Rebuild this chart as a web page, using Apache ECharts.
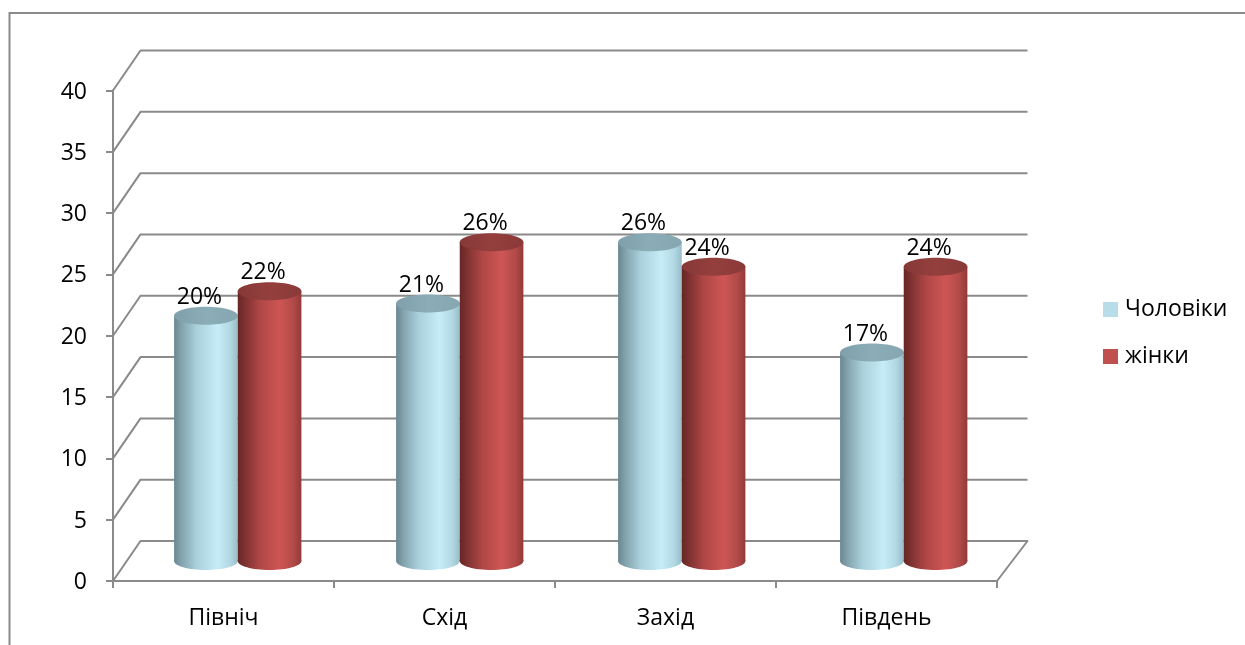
<!DOCTYPE html>
<html>
<head>
<meta charset="utf-8">
<style>html,body{margin:0;padding:0;background:#fff}#chart{width:1245px;height:645px}</style>
<script src="https://cdn.jsdelivr.net/npm/echarts@6/dist/echarts.min.js"></script>
</head>
<body>
<div id="chart"></div>
<script>
// Regions and survey shares, in percent
const regions = ['Північ', 'Схід', 'Захід', 'Південь'];
const menShares = [20, 21, 26, 17];
const womenShares = [22, 26, 24, 24];
const yTicks = [0, 5, 10, 15, 20, 25, 30, 35, 40];

const FONT = '"Open Sans", "Noto Sans", sans-serif';
const AXIS_GREY = '#8a8a8a';
// Oblique offset of the back wall relative to the front plane
const DEPTH_X = 27.5, DEPTH_Y = -40;
// The back wall is slightly wider than the front plane
const BACK_WIDEN = 3;
const MID_STRETCH = 1.0045;

function shade(stops) {
  return { type: 'linear', x: 0, y: 0, x2: 1, y2: 0,
    colorStops: stops.map(s => ({ offset: s[0], color: s[1] })) };
}

const men = {
  body: shade([[0, '#6a8791'], [0.12, '#83a4ae'], [0.35, '#a9d0db'], [0.68, '#c6edf7'], [0.88, '#b2d8e3'], [1, '#97bdc8']]),
  top: shade([[0, '#7fa0aa'], [0.5, '#8badb7'], [1, '#86a7b1']])
};
const women = {
  body: shade([[0, '#662625'], [0.12, '#7f3231'], [0.35, '#ae4746'], [0.66, '#ce5654'], [0.88, '#b04a48'], [1, '#94393a']]),
  top: shade([[0, '#863837'], [0.5, '#943f3e'], [1, '#8a3a39']])
};

// Cylinder standing half way through the chart depth, side by side within its band
function cylinderSeries(name, values, look, legendColor, side) {
  return {
    name, type: 'custom', coordinateSystem: 'cartesian2d', clip: false,
    itemStyle: { color: legendColor },
    encode: { x: 0, y: 1 },
    data: values.map((v, i) => [i, v]),
    renderItem(params, api) {
      const value = api.value(1);
      const band = api.size([1, 0])[0];
      const width = band * 0.288;
      const rx = width / 2, ry = 9;
      const topPt = api.coord([api.value(0), value]);
      const basePt = api.coord([api.value(0), 0]);
      const left = params.coordSys.x;
      const cx = left + (topPt[0] - left) * MID_STRETCH + DEPTH_X / 2 + side * rx;
      const yTop = topPt[1] + DEPTH_Y / 2;
      const yBase = basePt[1] + DEPTH_Y / 2;
      return {
        type: 'group', children: [
          { type: 'ellipse', shape: { cx, cy: yBase, rx, ry }, style: { fill: look.body } },
          { type: 'rect', shape: { x: cx - rx, y: yTop, width, height: yBase - yTop }, style: { fill: look.body } },
          { type: 'ellipse', shape: { cx, cy: yTop, rx, ry }, style: { fill: look.top } },
          { type: 'text', z2: 10, style: {
              text: value + '%', x: cx - 6.5, y: yTop - 18.5, align: 'center', verticalAlign: 'middle',
              font: '23px ' + FONT, fill: '#000' } }
        ]
      };
    }
  };
}

// Oblique gridlines: front edge up to the back wall, then across it
const gridSeries = {
  type: 'custom', coordinateSystem: 'cartesian2d', clip: false, silent: true,
  encode: { y: 0 },
  data: yTicks.map(v => [v]),
  renderItem(params, api) {
    const value = api.value(0);
    const sys = params.coordSys;
    const y = api.coord([0, value])[1];
    const left = sys.x, right = sys.x + sys.width;
    const points = [[left, y], [left + DEPTH_X, y + DEPTH_Y], [right + DEPTH_X + BACK_WIDEN, y + DEPTH_Y]];
    if (value === 0) points.push([right, y]);
    return { type: 'polyline', shape: { points },
      style: { fill: 'none', stroke: AXIS_GREY, lineWidth: 2, lineJoin: 'round' } };
  }
};

const chart = echarts.init(document.getElementById('chart'), null, { renderer: 'canvas' });
chart.setOption({
  animation: false,
  backgroundColor: '#fff',
  graphic: [{
    type: 'rect', z: 0, silent: true,
    shape: { x: 9.5, y: 13, width: 1300, height: 700 },
    style: { fill: 'none', stroke: AXIS_GREY, lineWidth: 2 }
  }],
  grid: { left: 113, right: 248, top: 90.5, bottom: 64, containLabel: false },
  legend: {
    orient: 'vertical', left: 1098, top: 293, itemWidth: 15, itemHeight: 15, itemGap: 24,
    icon: 'rect',
    textStyle: { fontFamily: FONT, fontSize: 23, color: '#000', padding: [2, 0, 0, 2] },
    data: ['Чоловіки', 'жінки']
  },
  xAxis: {
    type: 'category', data: regions, boundaryGap: true,
    axisLine: { lineStyle: { color: AXIS_GREY, width: 2 } },
    axisTick: { show: true, alignWithLabel: false, length: 7, lineStyle: { color: AXIS_GREY, width: 2 } },
    axisLabel: { fontFamily: FONT, fontSize: 23, color: '#000', margin: 26 },
    splitLine: { show: false }
  },
  yAxis: {
    type: 'value', min: 0, max: 40, interval: 5,
    axisLine: { show: true, lineStyle: { color: AXIS_GREY, width: 2 } },
    axisTick: { show: true, length: 7, lineStyle: { color: AXIS_GREY, width: 2 } },
    axisLabel: { fontFamily: FONT, fontSize: 23, color: '#000', margin: 26, verticalAlign: 'top', lineHeight: 3 },
    splitLine: { show: false }
  },
  series: [
    gridSeries,
    cylinderSeries('Чоловіки', menShares, men, '#b7dde8', -1),
    cylinderSeries('жінки', womenShares, women, '#c0504d', 1)
  ]
});
</script>
</body>
</html>
